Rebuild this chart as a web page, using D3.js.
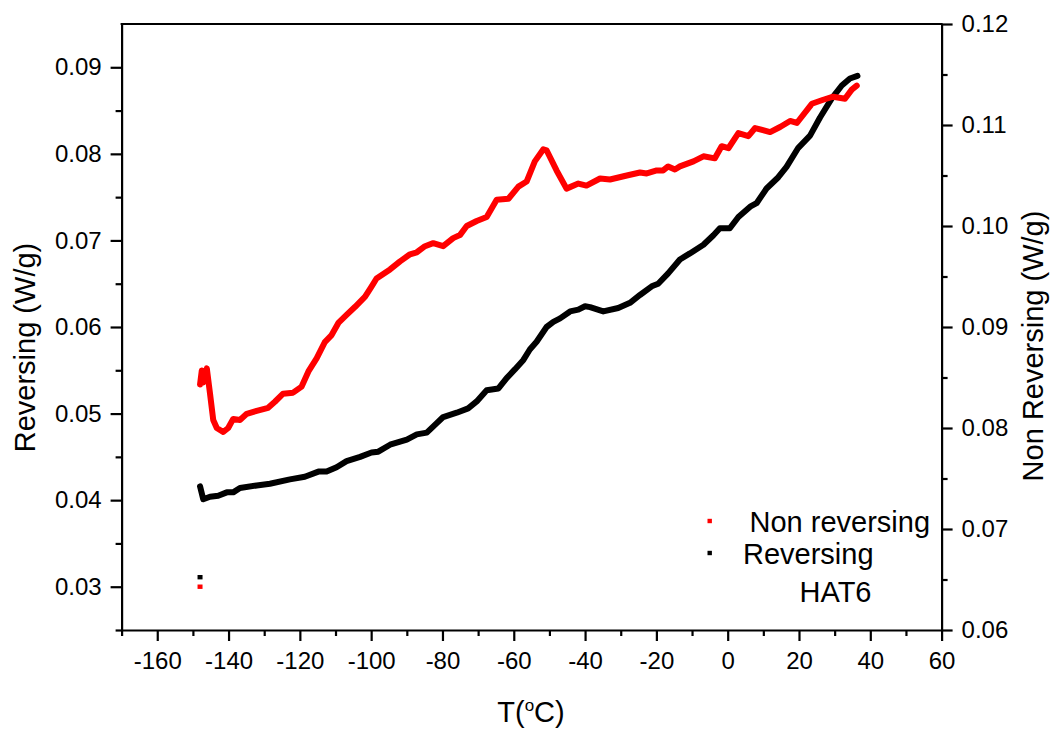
<!DOCTYPE html>
<html>
<head>
<meta charset="utf-8">
<script src="https://cdn.jsdelivr.net/npm/d3@7"></script>
<style>
  html, body { margin: 0; padding: 0; background: #fff; }
  svg { display: block; font-family: "Liberation Sans", Arial, sans-serif; }
</style>
</head>
<body>
<svg id="chart" width="1057" height="729"></svg>
<script>
// ---- Data ----
// Reversing (left axis, W/g)
const revT = [-148.0, -147.1, -145.2, -142.9, -140.5, -138.7, -136.8, -132.1, -128.4, -122.8, -118.6, -114.8, -112.5, -109.7, -106.9, -103.1, -99.9, -98.0, -94.7, -90.0, -87.2, -84.4, -81.6, -79.8, -76.0, -72.8, -70.4, -67.6, -64.3, -62.0, -59.7, -57.3, -55.5, -53.6, -50.8, -48.9, -47.0, -44.2, -41.9, -40.0, -38.6, -34.9, -30.7, -27.4, -24.6, -21.3, -19.5, -16.7, -13.4, -10.6, -6.8, -4.0, -2.2, 0.6, 3.0, 6.3, 8.1, 10.9, 14.2, 16.5, 19.8, 23.1, 25.9, 29.2, 32.0, 34.3, 36.4];
const revV = [0.0416, 0.0401, 0.0404, 0.0405, 0.0409, 0.0409, 0.0414, 0.0417, 0.0419, 0.0424, 0.0427, 0.0433, 0.0433, 0.0438, 0.0445, 0.0450, 0.0455, 0.0456, 0.0464, 0.0470, 0.0476, 0.0478, 0.0489, 0.0496, 0.0501, 0.0506, 0.0514, 0.0527, 0.0529, 0.0541, 0.0551, 0.0562, 0.0574, 0.0583, 0.0600, 0.0606, 0.0610, 0.0618, 0.0620, 0.0624, 0.0623, 0.0618, 0.0622, 0.0628, 0.0637, 0.0647, 0.0650, 0.0662, 0.0678, 0.0685, 0.0695, 0.0706, 0.0714, 0.0714, 0.0727, 0.0739, 0.0743, 0.0760, 0.0773, 0.0785, 0.0807, 0.0821, 0.0842, 0.0864, 0.0879, 0.0887, 0.0890];

// Non reversing (right axis, W/g)
const nonT = [-148.0, -147.5, -147.1, -146.1, -145.2, -144.3, -143.3, -141.5, -140.1, -138.7, -136.8, -134.9, -132.1, -128.9, -127.0, -124.7, -121.9, -119.5, -117.6, -115.3, -113.0, -111.1, -109.2, -106.9, -104.5, -101.7, -99.9, -98.5, -94.7, -91.9, -89.1, -87.2, -84.9, -82.6, -79.8, -77.0, -75.1, -73.2, -70.4, -67.6, -64.8, -61.5, -58.7, -56.4, -54.1, -51.7, -50.8, -48.0, -45.2, -41.9, -39.6, -35.8, -33.0, -28.3, -24.6, -22.7, -19.9, -18.1, -16.7, -14.8, -13.4, -9.6, -6.8, -3.6, -1.7, 0.2, 3.0, 5.8, 7.7, 11.9, 14.7, 17.5, 19.4, 23.6, 26.8, 29.6, 32.9, 34.8, 36.2];
const nonV = [0.0843, 0.0857, 0.0845, 0.0859, 0.0834, 0.0808, 0.0800, 0.0796, 0.0800, 0.0809, 0.0808, 0.0814, 0.0817, 0.0820, 0.0826, 0.0834, 0.0835, 0.0841, 0.0856, 0.0869, 0.0885, 0.0892, 0.0904, 0.0912, 0.0920, 0.0930, 0.0940, 0.0948, 0.0957, 0.0965, 0.0972, 0.0974, 0.0980, 0.0983, 0.0980, 0.0988, 0.0991, 0.1000, 0.1005, 0.1009, 0.1026, 0.1027, 0.1039, 0.1044, 0.1064, 0.1076, 0.1075, 0.1055, 0.1037, 0.1042, 0.1040, 0.1047, 0.1046, 0.1050, 0.1053, 0.1052, 0.1055, 0.1055, 0.1059, 0.1056, 0.1059, 0.1064, 0.1069, 0.1067, 0.1079, 0.1077, 0.1092, 0.1089, 0.1097, 0.1093, 0.1098, 0.1104, 0.1102, 0.1121, 0.1125, 0.1128, 0.1126, 0.1135, 0.1139];

// stray single points near the left axis (left-axis values)
const strayT = [-148, -148];
const strayV = [0.0311, 0.0300];
const strayColor = ["#000000", "#ff0000"];

// Axis ticks
const xTicks = [-160, -140, -120, -100, -80, -60, -40, -20, 0, 20, 40, 60];
const xMinor = [-170, -150, -130, -110, -90, -70, -50, -30, -10, 10, 30, 50];
const yLeftTicks = [0.03, 0.04, 0.05, 0.06, 0.07, 0.08, 0.09];
const yLeftMinor = [0.025, 0.035, 0.045, 0.055, 0.065, 0.075, 0.085];
const yRightTicks = [0.06, 0.07, 0.08, 0.09, 0.10, 0.11, 0.12];
const yRightMinor = [0.065, 0.075, 0.085, 0.095, 0.105, 0.115];

const legendLabels = ["Non reversing", "Reversing"];
const legendColors = ["#ff0000", "#000000"];
const sampleLabel = "HAT6";

// ---- Layout ----
const L = 121.6, R = 941.6, T = 24, B = 630;
const svg = d3.select("#chart");

const x = d3.scaleLinear().domain([-170, 60]).range([L, R]);
const yL = d3.scaleLinear().domain([0.025, 0.095]).range([B, T]);
const yR = d3.scaleLinear().domain([0.06, 0.12]).range([B, T]);

function styleAxis(g, fs) {
  g.selectAll("path.domain").attr("stroke", "#000").attr("stroke-width", 2.2);
  g.selectAll(".tick line").attr("stroke", "#000").attr("stroke-width", 2.2);
  g.selectAll(".tick text").attr("fill", "#000").style("font-size", fs + "px")
    .style("font-family", '"Liberation Sans", Arial, sans-serif');
}

// minor ticks first
svg.append("g").attr("transform", `translate(0,${B})`)
  .call(d3.axisBottom(x).tickValues(xMinor).tickSize(6).tickFormat(""))
  .call(g => { g.select(".domain").remove(); styleAxis(g, 24); });
svg.append("g").attr("transform", `translate(${L},0)`)
  .call(d3.axisLeft(yL).tickValues(yLeftMinor).tickSize(6).tickFormat(""))
  .call(g => { g.select(".domain").remove(); styleAxis(g, 24); });
svg.append("g").attr("transform", `translate(${R},0)`)
  .call(d3.axisRight(yR).tickValues(yRightMinor).tickSize(6).tickFormat(""))
  .call(g => { g.select(".domain").remove(); styleAxis(g, 24); });

// major axes
svg.append("g").attr("transform", `translate(0,${B})`)
  .call(d3.axisBottom(x).tickValues(xTicks).tickSize(11).tickSizeOuter(0).tickPadding(11).tickFormat(d => String(d)))
  .call(g => styleAxis(g, 24));
svg.append("g").attr("transform", `translate(${L},0)`)
  .call(d3.axisLeft(yL).tickValues(yLeftTicks).tickSize(11).tickSizeOuter(0).tickPadding(9).tickFormat(d => d.toFixed(2)))
  .call(g => styleAxis(g, 24));
svg.append("g").attr("transform", `translate(${R},0)`)
  .call(d3.axisRight(yR).tickValues(yRightTicks).tickSize(11).tickSizeOuter(0).tickPadding(9).tickFormat(d => d.toFixed(2)))
  .call(g => styleAxis(g, 24));

// top border
svg.append("line").attr("x1", L - 1).attr("x2", R + 1).attr("y1", T).attr("y2", T)
  .attr("stroke", "#000").attr("stroke-width", 2.2);

// ---- Curves ----
const lineL = d3.line().x(d => x(d[0])).y(d => yL(d[1]));
const lineR = d3.line().x(d => x(d[0])).y(d => yR(d[1]));

svg.append("path").datum(d3.zip(revT, revV))
  .attr("d", lineL).attr("fill", "none").attr("stroke", "#000")
  .attr("stroke-width", 6).attr("stroke-linejoin", "round").attr("stroke-linecap", "round");

svg.append("path").datum(d3.zip(nonT, nonV))
  .attr("d", lineR).attr("fill", "none").attr("stroke", "#ff0000")
  .attr("stroke-width", 6).attr("stroke-linejoin", "round").attr("stroke-linecap", "round");

// stray points
svg.selectAll("rect.stray").data(d3.zip(strayT, strayV, strayColor)).join("rect")
  .attr("class", "stray")
  .attr("x", d => x(d[0]) - 2.5).attr("y", d => yL(d[1]) - 2.2)
  .attr("width", 5).attr("height", 4.4).attr("fill", d => d[2]);

// ---- Legend ----
const legY = [521, 553];
const legTextX = [749.5, 743];
const legTextY = [531.5, 563.5];
legendLabels.forEach((lab, i) => {
  svg.append("rect").attr("x", 707.5).attr("y", legY[i] - 2.2).attr("width", 4.4).attr("height", 4.4)
    .attr("fill", legendColors[i]);
  svg.append("text").attr("x", legTextX[i]).attr("y", legTextY[i])
    .style("font-size", "29px").attr("fill", "#000").text(lab);
});
svg.append("text").attr("x", 799.5).attr("y", 601.5).style("font-size", "29px").attr("fill", "#000").text(sampleLabel);

// ---- Axis titles ----
svg.append("text").attr("transform", "translate(35,347.5) rotate(-90)")
  .attr("text-anchor", "middle").style("font-size", "29px").attr("fill", "#000").text("Reversing (W/g)");
svg.append("text").attr("transform", "translate(1043,346) rotate(-90)")
  .attr("text-anchor", "middle").style("font-size", "29px").attr("fill", "#000").text("Non Reversing (W/g)");
const xt = svg.append("text").attr("x", 531).attr("y", 721.5).attr("text-anchor", "middle")
  .style("font-size", "29px").attr("fill", "#000");
xt.append("tspan").text("T(");
xt.append("tspan").attr("dy", -11).style("font-size", "17px").text("o");
xt.append("tspan").attr("dy", 11).text("C)");
</script>
</body>
</html>
